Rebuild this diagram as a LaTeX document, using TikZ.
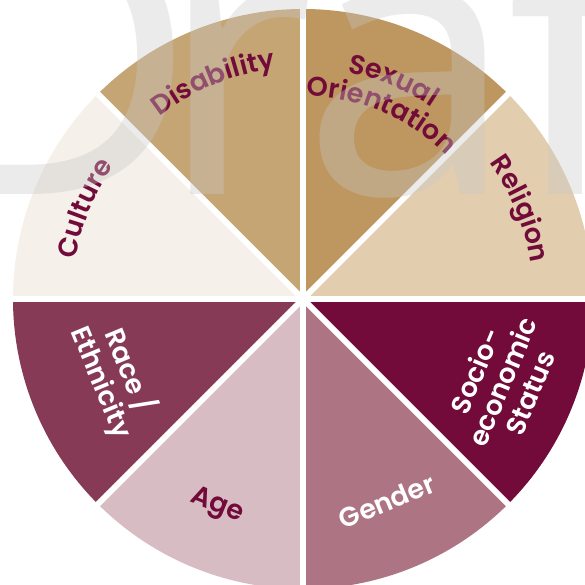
\documentclass[tikz,border=0pt]{standalone}
\usepackage{fontspec}
\usetikzlibrary{decorations.text}
\newfontfamily\lblfont{Poppins SemiBold}
\newfontfamily\wmfont{Noto Sans}
\definecolor{wine}{HTML}{720A3A}
\definecolor{religion}{HTML}{E2CDAE}
\definecolor{sexual}{HTML}{BE9660}
\definecolor{disability}{HTML}{C5A574}
\definecolor{culture}{HTML}{F5F0E9}
\definecolor{race}{HTML}{873A56}
\definecolor{age}{HTML}{D8BCC4}
\definecolor{gender}{HTML}{AD7484}
\definecolor{socio}{HTML}{720A3A}
\definecolor{wmgray}{HTML}{C8C8C8}
\newcommand\lblsize{\lblfont\fontsize{27}{27}\selectfont}
\tikzset{
  wedge/.style={fill=#1},
  gap/.style={draw=white, line width=6pt},
  flatlabel/.style={inner sep=0pt, anchor=base, font=\lblsize, text=#1},
  arclabel/.style={decorate, decoration={text along path, text align=center, text={|\lblsize\color{wine}|#1}}},
  wmletter/.style={inner sep=0pt, anchor=base west, text=wmgray, text opacity=0.36,
    font=\wmfont\fontsize{380}{380}\selectfont}
}
\begin{document}
\begin{tikzpicture}[x=1pt,y=1pt]
\useasboundingbox (-303,-286) rectangle (281,299);
\fill[white] (-303,-286) rectangle (281,299);
% eight equal wedges
\foreach \a/\c in {0/religion,45/sexual,90/disability,135/culture,180/race,225/age,270/gender,315/socio}
  \fill[wedge=\c] (0,0) -- (\a:290) arc[start angle=\a, end angle=\a+45, radius=290] -- cycle;
% white separators
\foreach \a in {0,45,...,315}
  \draw[gap] (0,0) -- (\a:300);
% curved labels on the upper half
\path[arclabel=Disability] (150:232) arc[start angle=150, end angle=75, radius=232];
\path[arclabel=Culture] (195:231) arc[start angle=195, end angle=120, radius=231];
\path[arclabel=Religion] (60:231) arc[start angle=60, end angle=-15, radius=231];
\path[arclabel=Sexual] (105:231) arc[start angle=105, end angle=30, radius=231];
\path[arclabel=Orientation] (119:203) arc[start angle=119, end angle=15, radius=203];
% straight labels on the lower half
\node[flatlabel=white, rotate=-67.5] (race) at (202.5:197) {Race /};
\node[flatlabel=white, rotate=-67.5] (eth) at (202.5:227) {Ethnicity};
\node[flatlabel=wine, rotate=-22.5] (age) at (247.5:230) {Age};
\node[flatlabel=white, rotate=22.5] (gender) at (292.5:229) {Gender};
\node[flatlabel=white, rotate=67.5] (socio) at (337.5:197) {Socio-};
\node[flatlabel=white, rotate=67.5] (econ) at (337.5:226) {economic};
\node[flatlabel=white, rotate=67.5] (status) at (337.5:256) {Status};
% watermark, letter by letter with tightened spacing
\node[wmletter] (wD) at (-384,104) {D};
\node[wmletter, xshift=-38pt] (wr) at (wD.base east) {r};
\node[wmletter, xshift=-14pt] (wa) at (wr.base east) {a};
\node[wmletter, xshift=-8pt] (wf) at (wa.base east) {f};
\node[wmletter, xshift=-6pt] (wt) at (wf.base east) {t};
\end{tikzpicture}
\end{document}
